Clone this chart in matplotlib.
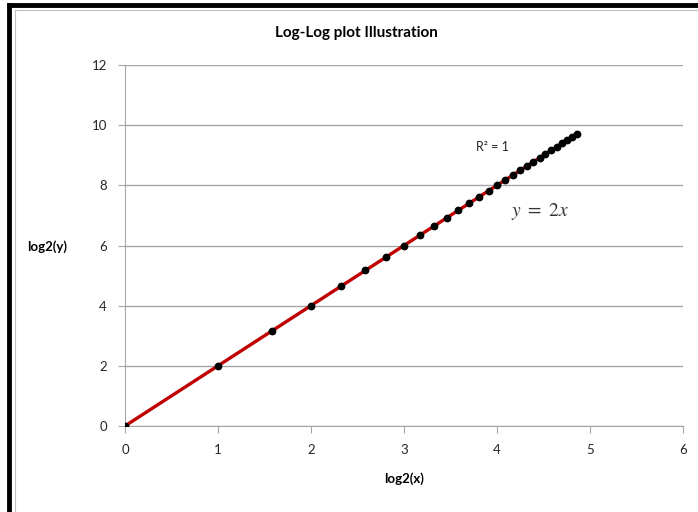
import matplotlib
matplotlib.use("Agg")
import matplotlib.pyplot as plt
from matplotlib.lines import Line2D

# log2 of x and y (points along y = 2x)
log2_x = [0, 1, 1.58, 2, 2.32, 2.58, 2.81, 3, 3.17, 3.32, 3.46, 3.58, 3.70,
          3.81, 3.91, 4, 4.09, 4.17, 4.25, 4.32, 4.39, 4.46, 4.52, 4.58,
          4.64, 4.70, 4.75, 4.81, 4.86]
log2_y = [0, 2, 3.17, 4, 4.64, 5.17, 5.61, 6, 6.34, 6.64, 6.92, 7.17, 7.40,
          7.62, 7.81, 8, 8.17, 8.34, 8.50, 8.64, 8.78, 8.92, 9.05, 9.17,
          9.29, 9.40, 9.51, 9.61, 9.72]
trend_x = [0, 4.86]
trend_y = [0, 9.72]

plt.rcParams["font.family"] = ["Lato", "DejaVu Sans"]
plt.rcParams["mathtext.fontset"] = "stix"

fig = plt.figure(figsize=(6.98, 5.12), dpi=100)
ax = fig.add_axes([0.179, 0.168, 0.7995, 0.705])

ax.plot(trend_x, trend_y, color="#c00000", lw=2.4, zorder=2)
ax.plot(log2_x, log2_y, "o", color="black", ms=4.6, zorder=3)

ax.set_xlim(0, 6)
ax.set_ylim(0, 12)
ax.set_xticks(range(0, 7))
ax.set_yticks(range(0, 13, 2))
ax.grid(axis="y", color="#a6a6a6", lw=1)
ax.set_axisbelow(True)
for s in ("top", "right"):
    ax.spines[s].set_visible(False)
for s in ("left", "bottom"):
    ax.spines[s].set_color("#a6a6a6")
ax.tick_params(colors="#a6a6a6", labelcolor="#262626", labelsize=9.5,
               length=5, direction="out")
ax.tick_params(axis="x", pad=8)
ax.tick_params(axis="y", pad=8)

fig.text(0.51, 0.935, "Log-Log plot Illustration", fontsize=11,
         fontweight="bold", ha="center", va="center")
ax.set_xlabel("log2(x)", fontsize=9.5, fontweight="bold", labelpad=12)
fig.text(0.067, 0.518, "log2(y)", fontsize=9.5, fontweight="bold",
         ha="center", va="center")

ax.text(3.95, 9.27, "R² = 1", fontsize=9, color="#262626",
        ha="center", va="center")
ax.text(4.46, 7.14, r"$y\ =\ 2x$", fontsize=14, color="#333333",
        ha="center", va="center")

# chart frame (black left/top edge, thin grey inner line)
fig.add_artist(Line2D([0.0135, 0.0135], [0, 0.99], transform=fig.transFigure,
                      color="black", lw=3.5))
fig.add_artist(Line2D([0.0135, 1], [0.99, 0.99], transform=fig.transFigure,
                      color="black", lw=3.5))
fig.add_artist(Line2D([0.022, 0.022], [0, 0.98], transform=fig.transFigure,
                      color="#c0c0c0", lw=0.8))
fig.add_artist(Line2D([0.022, 1], [0.98, 0.98], transform=fig.transFigure,
                      color="#c0c0c0", lw=0.8))

fig.savefig("out.png", dpi=100)
